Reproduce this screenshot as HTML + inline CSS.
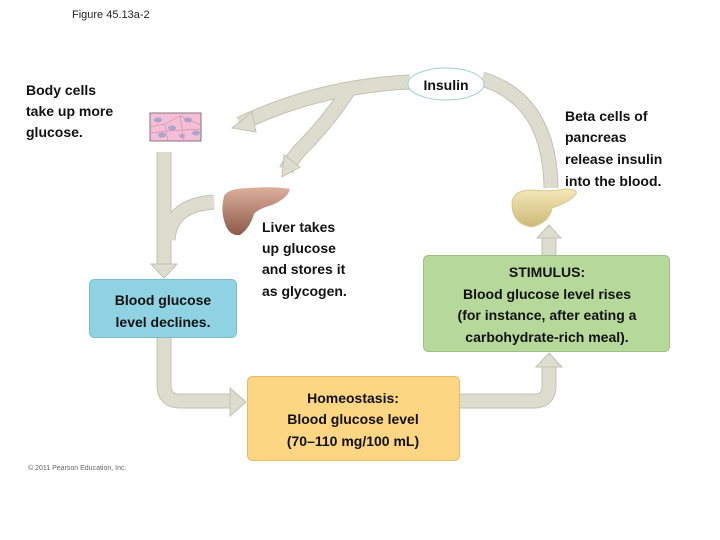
<!DOCTYPE html>
<html><head><style>
body{margin:0;background:#fff;width:720px;height:540px;overflow:hidden;}
svg{display:block}
text{font-family:"Liberation Sans",sans-serif;}
.t{font-family:"Liberation Sans",sans-serif;font-size:14px;fill:#111;font-weight:bold;}
</style></head><body>
<svg width="720" height="540" viewBox="0 0 720 540" xmlns="http://www.w3.org/2000/svg">
<defs>
<linearGradient id="liv" x1="0" y1="0" x2="0" y2="1"><stop offset="0" stop-color="#dcb09c"/><stop offset="1" stop-color="#8e5a4a"/></linearGradient>
<linearGradient id="pan" x1="0" y1="0" x2="0" y2="1"><stop offset="0" stop-color="#f4e8b8"/><stop offset="1" stop-color="#cdb978"/></linearGradient>
</defs>
<text x="72" y="18" style="font-size:11px" fill="#222">Figure 45.13a-2</text>

<g fill="none" stroke-linecap="butt">
<g stroke="#c3c3b2" stroke-width="15">
<path d="M410 82 Q320 86 240 124"/>
<path d="M350 88 Q330 120 300 150 Q290 162 286 170"/>
<path d="M482 79 Q550 100 551 188"/>
<path d="M164 152 L164 266"/>
<path d="M214 202 Q170 205 168 240"/>
<path d="M164 338 L164 385 Q164 401 180 401 L232 401"/>
<path d="M459 401 L534 401 Q549 401 549 386 L549 366"/>
<path d="M549 255 L549 236"/>
</g>
<g stroke="#dcdccf" stroke-width="13">
<path d="M410 82 Q320 86 240 124"/>
<path d="M350 88 Q330 120 300 150 Q290 162 286 170"/>
<path d="M482 79 Q550 100 551 188"/>
<path d="M164 152 L164 266"/>
<path d="M214 202 Q170 205 168 240"/>
<path d="M164 338 L164 385 Q164 401 180 401 L232 401"/>
<path d="M459 401 L534 401 Q549 401 549 386 L549 366"/>
<path d="M549 255 L549 236"/>
</g>
</g>
<g fill="#dcdccf" stroke="#c3c3b2" stroke-width="1">
<polygon points="232,128 252,112 256,132"/>
<polygon points="282,177 284,155 300,167"/>
<polygon points="164,278 151,264 177,264"/>
<polygon points="246,402 230,388 230,416"/>
<polygon points="549,353 536,367 562,367"/>
<polygon points="549,225 537,238 561,238"/>
</g>

<ellipse cx="446" cy="84" rx="38" ry="16" fill="#fff" stroke="#9fd0c8" stroke-width="1"/>
<text x="446" y="90" text-anchor="middle" class="t">Insulin</text>

<rect x="150" y="113" width="51" height="28" fill="#f3bfd6" stroke="#8a7080" stroke-width="1"/>
<g fill="#a9a6c8"><ellipse cx="158" cy="120" rx="4" ry="2.5"/><ellipse cx="172" cy="128" rx="4" ry="2.5"/><ellipse cx="188" cy="120" rx="4" ry="2.5"/><ellipse cx="196" cy="133" rx="4" ry="2.5"/><ellipse cx="162" cy="135" rx="4" ry="2.5"/><ellipse cx="182" cy="136" rx="3" ry="2"/></g>
<g stroke="#d88fb0" stroke-width="0.7" fill="none"><path d="M150 127 L165 124 L180 116 L201 125"/><path d="M165 124 L168 141"/><path d="M180 116 L184 141"/><path d="M150 133 L168 131 L201 129"/></g>

<path d="M224 196 Q228 188 250 188 Q275 186 290 189 Q288 198 272 205 Q258 209 254 214 Q250 228 240 235 Q230 236 226 226 Q220 212 224 196Z" fill="url(#liv)"/>

<path d="M512 204 Q512 190 532 190 Q550 192 565 189 Q578 189 576 194 Q570 202 552 208 Q550 222 532 227 Q512 224 512 204Z" fill="url(#pan)" stroke="#d8c890" stroke-width="1"/>

<text class="t" x="26" y="95">Body cells</text>
<text class="t" x="26" y="116">take up more</text>
<text class="t" x="26" y="137">glucose.</text>

<text class="t" x="565" y="121">Beta cells of</text>
<text class="t" x="565" y="142">pancreas</text>
<text class="t" x="565" y="164">release insulin</text>
<text class="t" x="565" y="186">into the blood.</text>

<text class="t" x="262" y="232">Liver takes</text>
<text class="t" x="262" y="253">up glucose</text>
<text class="t" x="262" y="274">and stores it</text>
<text class="t" x="262" y="296">as glycogen.</text>

<rect x="89.5" y="279.5" width="147" height="58" rx="5" fill="#8fd3e2" stroke="#7fbccb"/>
<text class="t" x="163" y="305" text-anchor="middle">Blood glucose</text>
<text class="t" x="163" y="327" text-anchor="middle">level declines.</text>

<rect x="423.5" y="255.5" width="246" height="96" rx="5" fill="#b6d99b" stroke="#9cc283"/>
<text class="t" x="547" y="277" text-anchor="middle">STIMULUS:</text>
<text class="t" x="547" y="299" text-anchor="middle">Blood glucose level rises</text>
<text class="t" x="547" y="320" text-anchor="middle">(for instance, after eating a</text>
<text class="t" x="547" y="342" text-anchor="middle">carbohydrate-rich meal).</text>

<rect x="247.5" y="376.5" width="212" height="84" rx="5" fill="#fcd683" stroke="#e3bd6a"/>
<text class="t" x="353" y="403" text-anchor="middle">Homeostasis:</text>
<text class="t" x="353" y="424" text-anchor="middle">Blood glucose level</text>
<text class="t" x="353" y="446" text-anchor="middle">(70–110 mg/100 mL)</text>

<text x="28" y="470" style="font-size:7px" fill="#666">© 2011 Pearson Education, Inc.</text>
</svg>
</body></html>
